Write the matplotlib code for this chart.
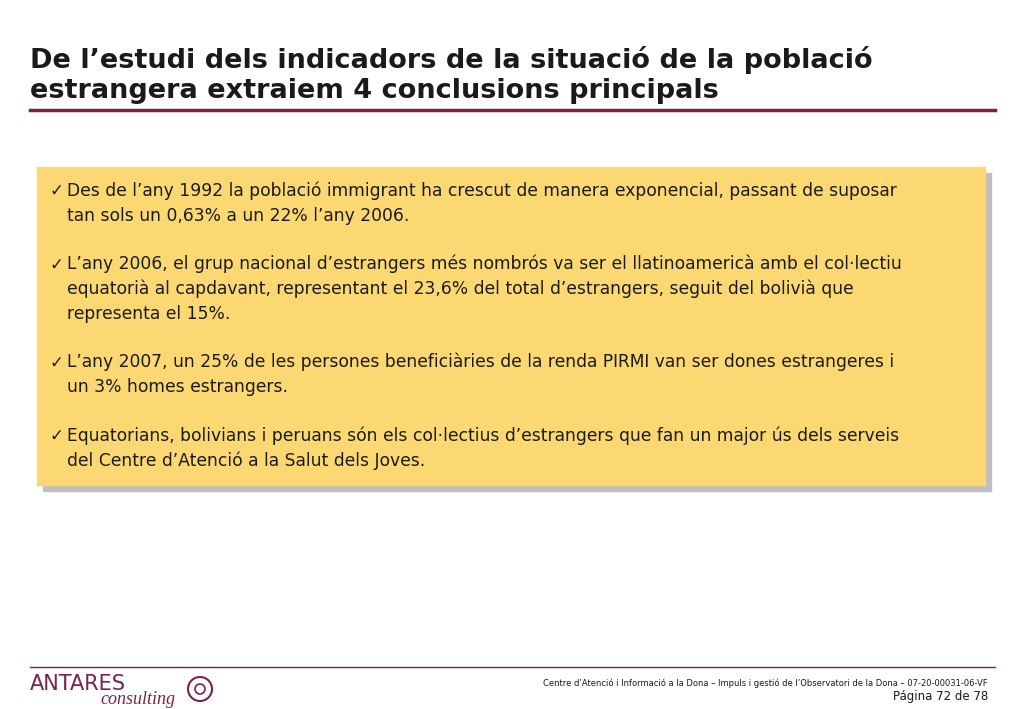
import matplotlib
matplotlib.use("Agg")
import matplotlib.pyplot as plt
from matplotlib.patches import Rectangle, Circle

title_lines = ["De l\u2019estudi dels indicadors de la situació de la població",
               "estrangera extraiem 4 conclusions principals"]
bullets = [
    ["Des de l\u2019any 1992 la població immigrant ha crescut de manera exponencial, passant de suposar",
     "tan sols un 0,63% a un 22% l\u2019any 2006."],
    ["L\u2019any 2006, el grup nacional d\u2019estrangers més nombrós va ser el llatinoamericà amb el col·lectiu",
     "equatorià al capdavant, representant el 23,6% del total d\u2019estrangers, seguit del bolivià que",
     "representa el 15%."],
    ["L\u2019any 2007, un 25% de les persones beneficiàries de la renda PIRMI van ser dones estrangeres i",
     "un 3% homes estrangers."],
    ["Equatorians, bolivians i peruans són els col·lectius d\u2019estrangers que fan un major ús dels serveis",
     "del Centre d\u2019Atenció a la Salut dels Joves."],
]
footer_text = "Centre d\u2019Atenció i Informació a la Dona \u2013 Impuls i gestió de l\u2019Observatori de la Dona \u2013 07-20-00031-06-VF"
page_text = "Página 72 de 78"

W, H = 1024, 709
fig = plt.figure(figsize=(W/100, H/100), dpi=100)
ax = fig.add_axes([0, 0, 1, 1])
ax.set_xlim(0, W); ax.set_ylim(H, 0); ax.axis("off")
maroon = "#7b2346"

ax.text(30, 68, title_lines[0], fontsize=19.5, fontweight="bold", color="#1a1a1a", va="baseline")
ax.text(30, 98, title_lines[1], fontsize=19.5, fontweight="bold", color="#1a1a1a", va="baseline")
ax.plot([30, 995], [110, 110], color=maroon, lw=2.5)

ax.add_patch(Rectangle((43, 173), 948, 318, color="#bfbfbf", zorder=1))
ax.add_patch(Rectangle((37, 167), 948, 318, color="#fcd872", zorder=2))

y = 196
for b in bullets:
    ax.text(49, y, "\u2713", fontsize=12, color="#1a1a1a", va="baseline", zorder=3)
    for line in b:
        ax.text(67, y, line, fontsize=12.3, color="#1a1a1a", va="baseline", zorder=3)
        y += 24.7
    y += 24

ax.plot([30, 995], [667, 667], color=maroon, lw=1)
ax.text(30, 690, "ANTARES", fontsize=15, color=maroon, va="baseline", family="DejaVu Sans")
ax.text(100, 704, "consulting", fontsize=13, color=maroon, style="italic", va="baseline", family="Liberation Serif")
ax.add_patch(Circle((200, 689), 12, fill=False, ec=maroon, lw=1.5))
ax.add_patch(Circle((200, 689), 5, fill=False, ec=maroon, lw=1.2))
ax.text(988, 686, footer_text, fontsize=6, color="#1a1a1a", ha="right", va="baseline")
ax.text(988, 700, page_text, fontsize=8.5, color="#1a1a1a", ha="right", va="baseline")

fig.savefig("out.png", dpi=100, facecolor="white")
